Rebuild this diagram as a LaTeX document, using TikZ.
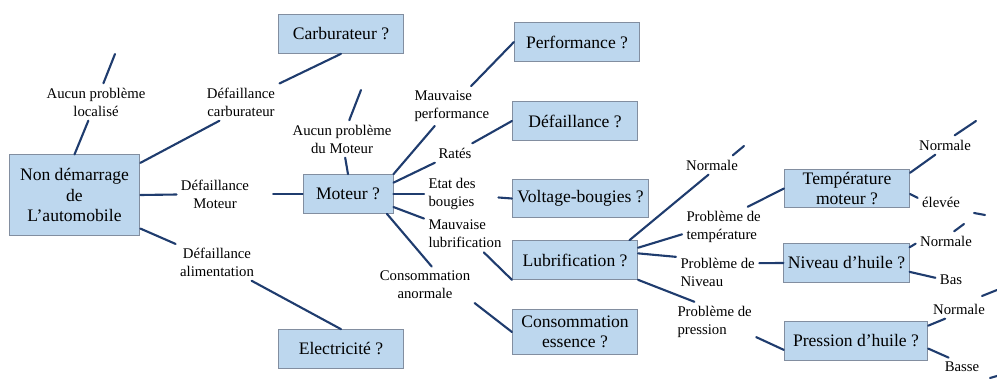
\documentclass[tikz,border=0pt]{standalone}
\usepackage{fontspec}
\setmainfont{Liberation Serif}
\definecolor{bleuLien}{RGB}{31,60,110}
\definecolor{bleuBoite}{RGB}{189,215,238}
\definecolor{grisBord}{RGB}{130,142,160}
\tikzset{
	boite/.style={draw=grisBord,line width=.7pt,fill=bleuBoite,minimum width=89pt,minimum height=27.5pt,inner sep=1pt,align=center,font=\fontsize{12.5}{14.6}\selectfont},
	etiq/.style={inner sep=3pt,align=center,font=\fontsize{10.5}{12.8}\selectfont},
	lien/.style={draw=bleuLien,line width=1.5pt}
}
\begin{document}
\begin{tikzpicture}[x=.025cm,y=-.025cm,line cap=round]
	\useasboundingbox (0,0) rectangle (997,379);
	\node[boite,minimum width=93pt,minimum height=57pt] (nd) at (74.5,195) {Non démarrage\\de\\L’automobile};
	\node[boite] (carb) at (341,34) {Carburateur ?};
	\node[boite] (elec) at (341,349) {Electricité ?};
	\node[boite,minimum width=64pt] (mot) at (348,194) {Moteur ?};
	\node[boite] (perf) at (577,42) {Performance ?};
	\node[boite] (def) at (575,121) {Défaillance ?};
	\node[boite,minimum width=97pt] (volt) at (580.5,198.5) {Voltage-bougies ?};
	\node[boite] (lub) at (575,260) {Lubrification ?};
	\node[boite,minimum height=32.5pt] (cons) at (575,332) {Consommation\\essence ?};
	\node[boite] (temp) at (847,188.5) {Température\\moteur ?};
	\node[boite] (niv) at (846.5,263) {Niveau d’huile ?};
	\node[boite,minimum width=102pt] (pres) at (856,341) {Pression d’huile ?};
	\node[etiq] (al) at (96,102) {Aucun problème\\localisé};
	\node[etiq] (dc) at (241,102) {Défaillance\\carburateur};
	\node[etiq] (dm) at (215,194) {Défaillance\\Moteur};
	\node[etiq] (da) at (217,262) {Défaillance\\alimentation};
	\node[etiq] (am) at (342,139) {Aucun problème\\du Moteur};
	\node[etiq,align=left,anchor=west] (mp) at (410,106) {Mauvaise\\performance};
	\node[etiq] (ra) at (455,153) {Ratés};
	\node[etiq,align=left,anchor=west] (eb) at (424,194) {Etat des\\bougies};
	\node[etiq,align=left,anchor=west] (ml) at (424,234) {Mauvaise\\lubrification};
	\node[etiq] (ca) at (425,285) {Consommation\\anormale};
	\node[etiq] (ln) at (712,165) {Normale};
	\node[etiq,align=left,anchor=west] (lt) at (682,227) {Problème de\\température};
	\node[etiq,align=left,anchor=west] (lniv) at (676,272) {Problème de\\Niveau};
	\node[etiq,align=left,anchor=west] (lp) at (673,322) {Problème de\\pression};
	\node[etiq] (tn) at (945,145) {Normale};
	\node[etiq] (te) at (941,202) {élevée};
	\node[etiq] (nn) at (946,241) {Normale};
	\node[etiq] (nb) at (951,280) {Bas};
	\node[etiq] (pn) at (959,309) {Normale};
	\node[etiq] (pb) at (962,367) {Basse};
	\path
	(115,54) coordinate (al-fin)
	(361,90) coordinate (am-fin)
	(744,146) coordinate (ln-fin)
	(976,121) coordinate (tn-fin)
	(964,224) coordinate (nn-fin)
	(974,213) coordinate (te-a) (985,215) coordinate (te-b)
	(982,296) coordinate (pn-a) (997,290) coordinate (pn-b)
	(990,378) coordinate (pb-a) (997,376) coordinate (pb-b)
		;
	\draw[lien] (nd.north) -- (al) -- (al-fin);
	\draw[lien] (nd.26) -- (dc.-139) (dc) -- (carb.south);
	\draw[lien] (nd.east) -- (dm);
	\draw[lien,shorten <=14pt] (dm) -- (mot.west);
	\draw[lien] (nd.-27) -- (da) -- (elec.north);
	\draw[lien] (mot.north) -- (am) -- (am-fin);
	\draw[lien] (mot.north east) -- (mp) -- (perf.west);
	\draw[lien] (mot.14) -- (ra) -- (def.west);
	\draw[lien] (mot.east) -- (eb);
	\draw[lien,shorten <=13pt] (eb) -- (volt.west);
	\draw[lien] (mot.-16) -- (ml) -- (lub.south west);
	\draw[lien] (mot.-27) -- (ca.70) (ca.-20) -- (cons.west);
	\draw[lien] (lub.20) -- (ln.-110) (ln.25) -- (ln-fin);
	\draw[lien] (lub.11) -- (lt.-170) (lt.40) -- (temp.west);
	\draw[lien] (lub.6) -- (lniv.160) (lniv.12) -- (niv.west);
	\draw[lien] (lub.south east) -- (lp.135) (lp.-20) -- (pres.-173);
	\draw[lien] (temp.14) -- (tn.-135) (tn.45) -- (tn-fin);
	\draw[lien] (temp.-5) -- (te.170);
	\draw[lien] (niv.14) -- (nn.-175) (nn.50) -- (nn-fin);
	\draw[lien] (niv.-8) -- (nb.172);
	\draw[lien] (pres.12) -- (pn.-145);
	\draw[lien] (pres.-6) -- (pb.145);
	\foreach \a/\b in {te-a/te-b,pn-a/pn-b,pb-a/pb-b} \draw[lien] (\a) -- (\b);
\end{tikzpicture}
\end{document}
